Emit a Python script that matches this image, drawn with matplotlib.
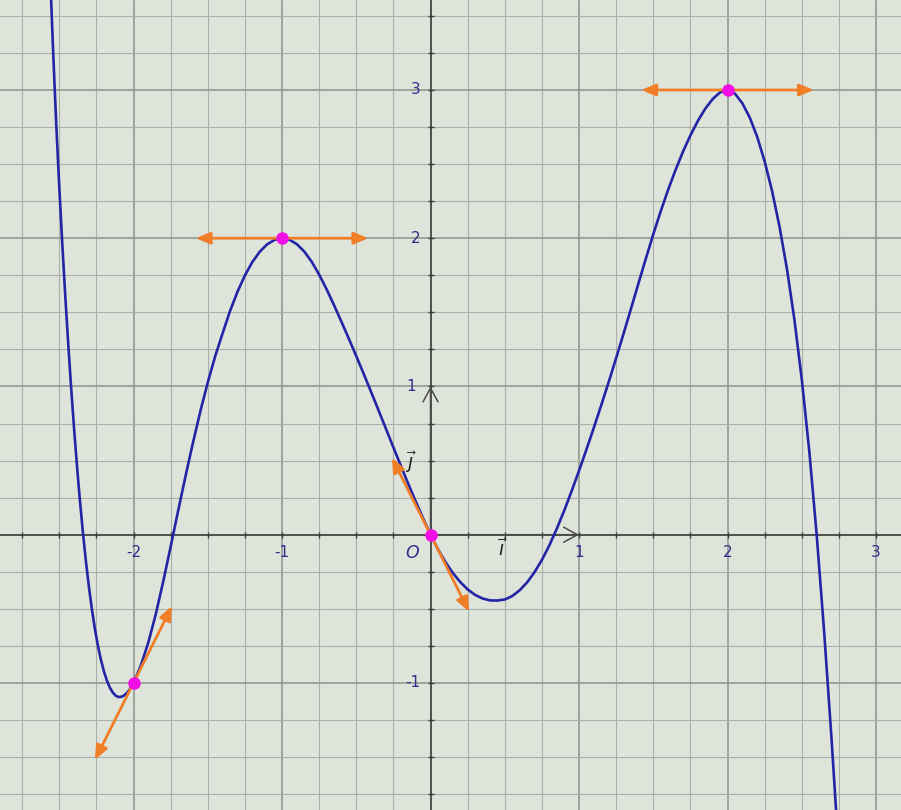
import matplotlib
matplotlib.use("Agg")
import matplotlib.pyplot as plt
import numpy as np
from matplotlib.patches import FancyArrowPatch

# curve points
CURVE_X = [
    -2.56, -2.54, -2.52, -2.50, -2.48, -2.46, -2.44, -2.42, -2.40, -2.38,
    -2.36, -2.34, -2.32, -2.30, -2.28, -2.26, -2.24, -2.22, -2.20, -2.18,
    -2.16, -2.14, -2.12, -2.10, -2.08, -2.06, -2.04, -2.02, -2.0,
    -1.95, -1.9, -1.85, -1.8, -1.75, -1.7, -1.65, -1.6, -1.55, -1.5,
    -1.45, -1.4, -1.35, -1.3, -1.25, -1.2, -1.15, -1.1, -1.05, -1.0,
    -0.95, -0.9, -0.85, -0.8, -0.75, -0.7, -0.65, -0.6, -0.55, -0.5,
    -0.45, -0.4, -0.35, -0.3, -0.25, -0.2, -0.15, -0.1, -0.05, 0.0,
    0.05, 0.1, 0.15, 0.2, 0.25, 0.3, 0.35, 0.4, 0.45, 0.5,
    0.55, 0.6, 0.65, 0.7, 0.75, 0.8, 0.85, 0.9, 0.95, 1.0,
    1.05, 1.1, 1.15, 1.2, 1.25, 1.3, 1.35, 1.4, 1.45, 1.5,
    1.55, 1.6, 1.65, 1.7, 1.75, 1.8, 1.85, 1.9, 1.95, 2.0,
    2.05, 2.1, 2.15, 2.2, 2.25, 2.3, 2.35, 2.4, 2.45, 2.5,
    2.55, 2.6, 2.65, 2.7, 2.75, 2.8,
]
CURVE_Y = [
    3.744, 3.229, 2.764, 2.348, 1.97, 1.619, 1.294, 0.992, 0.713, 0.456,
    0.221, 0.008, -0.184, -0.354, -0.504, -0.635, -0.747, -0.841, -0.919, -0.982,
    -1.03, -1.064, -1.086, -1.095, -1.093, -1.082, -1.063, -1.036, -1.0,
    -0.881, -0.726, -0.536, -0.316, -0.081, 0.159, 0.394, 0.619, 0.832, 1.027,
    1.204, 1.359, 1.509, 1.639, 1.749, 1.839, 1.909, 1.959, 1.989, 2.0,
    1.99, 1.96, 1.91, 1.841, 1.755, 1.656, 1.549, 1.437, 1.322, 1.205,
    1.085, 0.963, 0.839, 0.714, 0.589, 0.465, 0.343, 0.225, 0.11, 0.0,
    -0.098, -0.184, -0.258, -0.319, -0.369, -0.406, -0.43, -0.443, -0.444, -0.437,
    -0.414, -0.375, -0.322, -0.253, -0.17, -0.072, 0.04, 0.162, 0.294, 0.432,
    0.575, 0.723, 0.875, 1.031, 1.192, 1.357, 1.525, 1.695, 1.863, 2.027,
    2.182, 2.327, 2.461, 2.584, 2.694, 2.791, 2.874, 2.939, 2.984, 3.0,
    2.975, 2.91, 2.813, 2.683, 2.518, 2.318, 2.078, 1.793, 1.453, 1.048,
    0.568, 0.003, -0.648, -1.373, -2.163, -3.01,
]

# marked points and the slope of the tangent drawn at each
POINT_X = [-2, -1, 0, 2]
POINT_Y = [-1, 2, 0, 3]
TANGENT_SLOPE = [2, 0, -2, 0]

X_TICKS = [-2, -1, 1, 2, 3]
Y_TICKS = [-1, 1, 2, 3]

BG = "#DEE4DA"
MINOR_GRID = "#A9B0A7"
MAJOR_GRID = "#8C938A"
AXIS_COLOR = "#3A3A3A"
CURVE_COLOR = "#2424A6"
TANGENT_COLOR = "#F07E26"
POINT_COLOR = "#F20FE6"
LABEL_COLOR = "#2E2E8E"

XMIN, XMAX = -2.899, 3.168
YMIN, YMAX = -1.857, 3.607

fig = plt.figure(figsize=(9.01, 8.10), dpi=100)
ax = fig.add_axes([0, 0, 1, 1])
ax.set_facecolor(BG)
ax.set_xlim(XMIN, XMAX)
ax.set_ylim(YMIN, YMAX)
ax.set_axis_off()
ax.add_patch(plt.Rectangle((XMIN, YMIN), XMAX - XMIN, YMAX - YMIN, color=BG, zorder=0))

# grid every 0.25, integers a little darker
for gx in np.arange(-2.75, 3.01, 0.25):
    major = abs(gx - round(gx)) < 1e-9
    ax.axvline(gx, color=MAJOR_GRID if major else MINOR_GRID, lw=1.1 if major else 0.8, zorder=1)
for gy in np.arange(-1.75, 3.51, 0.25):
    major = abs(gy - round(gy)) < 1e-9
    ax.axhline(gy, color=MAJOR_GRID if major else MINOR_GRID, lw=1.1 if major else 0.8, zorder=1)

# axes with small ticks
ax.axhline(0, color=AXIS_COLOR, lw=1.1, zorder=2)
ax.axvline(0, color=AXIS_COLOR, lw=1.1, zorder=2)
tx = np.arange(-2.75, 3.01, 0.25)
ty = np.arange(-1.75, 3.51, 0.25)
ax.plot(tx, np.zeros_like(tx), ls="none", marker="|", ms=4, mew=1.0, color=AXIS_COLOR, zorder=2)
ax.plot(np.zeros_like(ty), ty, ls="none", marker="_", ms=4, mew=1.0, color=AXIS_COLOR, zorder=2)

# unit vectors i and j
for end in [(1, 0), (0, 1)]:
    ax.annotate("", xy=end, xytext=(0, 0),
                arrowprops=dict(arrowstyle="->,head_length=0.55,head_width=0.3",
                                color="#4A4A4A", lw=1.1, mutation_scale=18,
                                shrinkA=0, shrinkB=0), zorder=3)

# tick labels
for v in X_TICKS:
    ax.text(v, -0.118, f"{v}", color=LABEL_COLOR, fontsize=11, ha="center", va="center", zorder=6)
for v in Y_TICKS:
    ax.text(-0.07 if v != 1 else -0.1, v, f"{v}", color=LABEL_COLOR, fontsize=11,
            ha="right", va="center", zorder=6)
ax.text(-0.125, -0.12, "O", color=LABEL_COLOR, fontsize=12.5, style="italic",
        ha="center", va="center", zorder=6)
ax.text(0.49, -0.1, r"$\vec{\imath}$", color="#202020", fontsize=13.5, ha="center", va="center", zorder=6)
ax.text(-0.13, 0.49, r"$\vec{\jmath}$", color="#202020", fontsize=13.5, ha="center", va="center", zorder=6)

# the curve
ax.plot(CURVE_X, CURVE_Y, color=CURVE_COLOR, lw=1.9, solid_joinstyle="round", zorder=4)

# tangent arrows
half = 0.58
for x0, y0, m in zip(POINT_X, POINT_Y, TANGENT_SLOPE):
    dx = half / np.hypot(1, m)
    dy = m * dx
    arr = FancyArrowPatch((x0 - dx, y0 - dy), (x0 + dx, y0 + dy),
                          arrowstyle="<|-|>,head_length=0.85,head_width=0.36",
                          mutation_scale=10, color=TANGENT_COLOR, lw=2.0,
                          shrinkA=0, shrinkB=0, zorder=5)
    ax.add_patch(arr)

ax.plot(POINT_X, POINT_Y, ls="none", marker="o", ms=8, color=POINT_COLOR, mec=POINT_COLOR, zorder=7)

fig.savefig("out.png", dpi=100, facecolor=BG)
